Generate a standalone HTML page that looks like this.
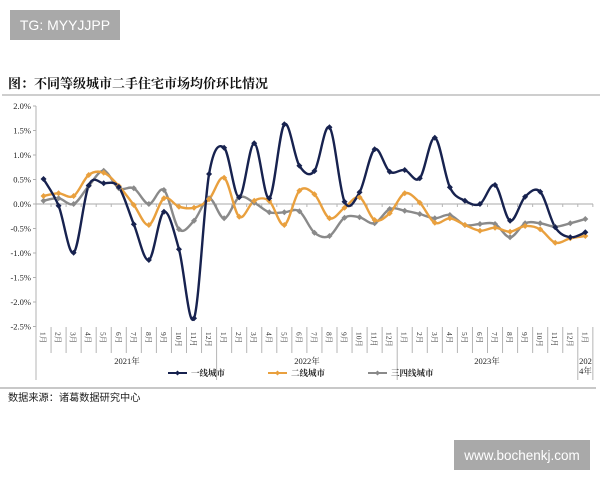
<!DOCTYPE html>
<html><head><meta charset="utf-8">
<style>
html,body{margin:0;padding:0;background:#fff;}
body{width:600px;height:480px;overflow:hidden;position:relative;}
svg{position:absolute;left:0;top:0;}
.serif{font-family:"Liberation Serif","Noto Serif CJK SC",serif;}
.sans{font-family:"Liberation Sans","Noto Sans CJK SC",sans-serif;}
</style></head>
<body>
<svg width="600" height="480" viewBox="0 0 600 480" xmlns="http://www.w3.org/2000/svg">
<rect x="0" y="0" width="600" height="480" fill="#fff"/>
<!-- TG box -->
<rect x="10" y="10" width="110" height="30" fill="#a9a9a9"/>
<text x="65" y="30" text-anchor="middle" class="sans" font-size="14" fill="#fff">TG: MYYJJPP</text>
<!-- Title -->
<text x="8" y="88" class="serif" font-size="13" font-weight="bold" fill="#111">图：不同等级城市二手住宅市场均价环比情况</text>
<line x1="2" y1="95" x2="600" y2="95" stroke="#bdbdbd" stroke-width="1.6"/>
<!-- Y axis labels -->
<g class="serif" font-size="8.5" fill="#222" text-anchor="end">
<text x="31" y="109">2.0%</text>
<text x="31" y="133.5">1.5%</text>
<text x="31" y="158">1.0%</text>
<text x="31" y="182.5">0.5%</text>
<text x="31" y="207">0.0%</text>
<text x="31" y="231.5">-0.5%</text>
<text x="31" y="256">-1.0%</text>
<text x="31" y="280.5">-1.5%</text>
<text x="31" y="305">-2.0%</text>
<text x="31" y="329.5">-2.5%</text>
</g>
<g stroke="#b0b0b0" stroke-width="1">
<line x1="36" y1="106" x2="36" y2="380"/>
<line x1="33" y1="106" x2="36" y2="106"/>
<line x1="33" y1="130.5" x2="36" y2="130.5"/>
<line x1="33" y1="155" x2="36" y2="155"/>
<line x1="33" y1="179.5" x2="36" y2="179.5"/>
<line x1="33" y1="204" x2="36" y2="204"/>
<line x1="33" y1="228.5" x2="36" y2="228.5"/>
<line x1="33" y1="253" x2="36" y2="253"/>
<line x1="33" y1="277.5" x2="36" y2="277.5"/>
<line x1="33" y1="302" x2="36" y2="302"/>
<line x1="33" y1="326.5" x2="36" y2="326.5"/>
<line x1="36" y1="204" x2="593" y2="204" stroke="#aaa"/>
</g>
<g id="ticks" stroke="#b5b5b5" stroke-width="1"></g>
<g id="mlabels" class="serif" font-size="7.5" fill="#333"></g>
<!-- year labels -->
<g class="serif" font-size="8.5" fill="#222" text-anchor="middle">
<text x="127" y="364">2021年</text>
<text x="307" y="364">2022年</text>
<text x="487" y="364">2023年</text>
<text x="585.5" y="364">202</text>
<text x="585.5" y="374">4年</text>
</g>
<!-- series -->
<g fill="none" stroke-width="2.4" stroke-linejoin="round" stroke-linecap="round">
<polyline id="s3" stroke="#8a8a8a" points=""/>
<polyline id="s2" stroke="#e9a03e" points=""/>
<polyline id="s1" stroke="#17224f" points=""/>
</g>
<g id="markers"></g>
<!-- legend -->
<g stroke-width="2">
<line x1="168" y1="373" x2="187" y2="373" stroke="#17224f"/>
<path d="M177.5 370.5 L180 373 L177.5 375.5 L175 373 Z" fill="#17224f"/>
<line x1="268" y1="373" x2="287" y2="373" stroke="#e9a03e"/>
<path d="M277.5 370.5 L280 373 L277.5 375.5 L275 373 Z" fill="#e9a03e"/>
<line x1="368" y1="373" x2="387" y2="373" stroke="#8a8a8a"/>
<path d="M377.5 370.5 L380 373 L377.5 375.5 L375 373 Z" fill="#8a8a8a"/>
</g>
<g class="serif" font-size="8.5" font-weight="bold" fill="#222">
<text x="191" y="376">一线城市</text>
<text x="291" y="376">二线城市</text>
<text x="391" y="376">三四线城市</text>
</g>
<line x1="0" y1="388" x2="596" y2="388" stroke="#c8c8c8" stroke-width="2"/>
<!-- source -->
<text x="8" y="401" class="sans" font-size="10.2" fill="#222">数据来源：诸葛数据研究中心</text>
<!-- watermark -->
<rect x="454" y="440" width="136" height="30" fill="#a9a9a9"/>
<text x="522" y="460" text-anchor="middle" class="sans" font-size="13.5" fill="#fff">www.bochenkj.com</text>

<!-- static month labels -->
<g class="serif" font-size="7.5" fill="#333">
<text transform="translate(40.5,332) rotate(90)">1月</text>
<text transform="translate(55.6,332) rotate(90)">2月</text>
<text transform="translate(70.6,332) rotate(90)">3月</text>
<text transform="translate(85.7,332) rotate(90)">4月</text>
<text transform="translate(100.7,332) rotate(90)">5月</text>
<text transform="translate(115.8,332) rotate(90)">6月</text>
<text transform="translate(130.8,332) rotate(90)">7月</text>
<text transform="translate(145.9,332) rotate(90)">8月</text>
<text transform="translate(160.9,332) rotate(90)">9月</text>
<text transform="translate(176.0,332) rotate(90)">10月</text>
<text transform="translate(191.0,332) rotate(90)">11月</text>
<text transform="translate(206.1,332) rotate(90)">12月</text>
<text transform="translate(221.1,332) rotate(90)">1月</text>
<text transform="translate(236.2,332) rotate(90)">2月</text>
<text transform="translate(251.2,332) rotate(90)">3月</text>
<text transform="translate(266.3,332) rotate(90)">4月</text>
<text transform="translate(281.3,332) rotate(90)">5月</text>
<text transform="translate(296.4,332) rotate(90)">6月</text>
<text transform="translate(311.4,332) rotate(90)">7月</text>
<text transform="translate(326.5,332) rotate(90)">8月</text>
<text transform="translate(341.5,332) rotate(90)">9月</text>
<text transform="translate(356.6,332) rotate(90)">10月</text>
<text transform="translate(371.6,332) rotate(90)">11月</text>
<text transform="translate(386.7,332) rotate(90)">12月</text>
<text transform="translate(401.7,332) rotate(90)">1月</text>
<text transform="translate(416.8,332) rotate(90)">2月</text>
<text transform="translate(431.8,332) rotate(90)">3月</text>
<text transform="translate(446.9,332) rotate(90)">4月</text>
<text transform="translate(461.9,332) rotate(90)">5月</text>
<text transform="translate(477.0,332) rotate(90)">6月</text>
<text transform="translate(492.0,332) rotate(90)">7月</text>
<text transform="translate(507.1,332) rotate(90)">8月</text>
<text transform="translate(522.1,332) rotate(90)">9月</text>
<text transform="translate(537.2,332) rotate(90)">10月</text>
<text transform="translate(552.2,332) rotate(90)">11月</text>
<text transform="translate(567.3,332) rotate(90)">12月</text>
<text transform="translate(582.3,332) rotate(90)">1月</text>
</g>
</svg>
<script>
(function(){
var NS="http://www.w3.org/2000/svg";
var X=function(i){return 43.525+15.05*i;};
var d1=[179,205.7,252.7,185.5,183.3,187,224.3,260,211.7,249.3,318.3,174,147.7,197.3,143.3,198.3,124.3,165.7,171,127.3,201.7,192.3,149.3,171.7,170,178.3,137.7,187.3,200.7,204,185,220.7,196.7,191.7,227.3,237.3,232.3];
var d2=[196,193.3,196,175,172.7,186,205,225,198.3,206.7,207.7,199.3,177.7,216.7,200.7,201,225,190.7,194.3,218.3,207.7,197.3,220,213.3,193.3,202.7,222.7,218.3,225,230.7,227.7,231.7,226,229.3,242.7,238.3,236];
var d3=[200.7,198.3,204,186,170.7,188.3,188.3,204,190,229.3,220.7,198.3,218.3,197.3,202.7,212.3,212.3,211.3,232.7,236,217.7,217.3,223.3,209,210.7,214,218.3,215,225,224,224,237.3,223.3,223.3,226.7,223.3,219];
var svg=document.querySelector("svg");
function smooth(d){
  var p=d.map(function(y,i){return [X(i),y];});
  var s="M"+p[0][0].toFixed(2)+" "+p[0][1].toFixed(2);
  for(var i=0;i<p.length-1;i++){
    var p0=p[i-1]||p[i],p1=p[i],p2=p[i+1],p3=p[i+2]||p[i+1];
    var c1x=p1[0]+(p2[0]-p0[0])/6,c1y=p1[1]+(p2[1]-p0[1])/6;
    var c2x=p2[0]-(p3[0]-p1[0])/6,c2y=p2[1]-(p3[1]-p1[1])/6;
    s+=" C"+c1x.toFixed(2)+" "+c1y.toFixed(2)+" "+c2x.toFixed(2)+" "+c2y.toFixed(2)+" "+p2[0].toFixed(2)+" "+p2[1].toFixed(2);
  }
  return s;
}
function draw(id,d,color){
  var pl=document.getElementById(id);
  var path=document.createElementNS(NS,"path");
  path.setAttribute("d",smooth(d));
  path.setAttribute("stroke",color);
  path.setAttribute("fill","none");
  path.setAttribute("stroke-width","2.4");
  pl.parentNode.replaceChild(path,pl);
  var m=document.getElementById("markers");
  d.forEach(function(y,i){
    var x=X(i);
    var q=document.createElementNS(NS,"path");
    q.setAttribute("d","M"+x+" "+(y-3)+" L"+(x+3)+" "+y+" L"+x+" "+(y+3)+" L"+(x-3)+" "+y+" Z");
    q.setAttribute("fill",color);
    m.appendChild(q);
  });
}
// fallback polylines first
[["s1",d1],["s2",d2],["s3",d3]].forEach(function(a){
  document.getElementById(a[0]).setAttribute("points",a[1].map(function(y,i){return X(i).toFixed(1)+","+y;}).join(" "));
});
draw("s3",d3,"#8a8a8a");
draw("s2",d2,"#e9a03e");
draw("s1",d1,"#17224f");
// ticks
var t=document.getElementById("ticks");
function ln(x1,y1,x2,y2){var l=document.createElementNS(NS,"line");l.setAttribute("x1",x1);l.setAttribute("y1",y1);l.setAttribute("x2",x2);l.setAttribute("y2",y2);t.appendChild(l);}
for(var k=0;k<=37;k++){
  var x=36+15.05*k;
  var yr=(k%12===0)||k===37;
  ln(x,327,x,yr?380:353);
  if(k>0) ln(x,204,x,207);
}
})();
</script>
</body></html>
